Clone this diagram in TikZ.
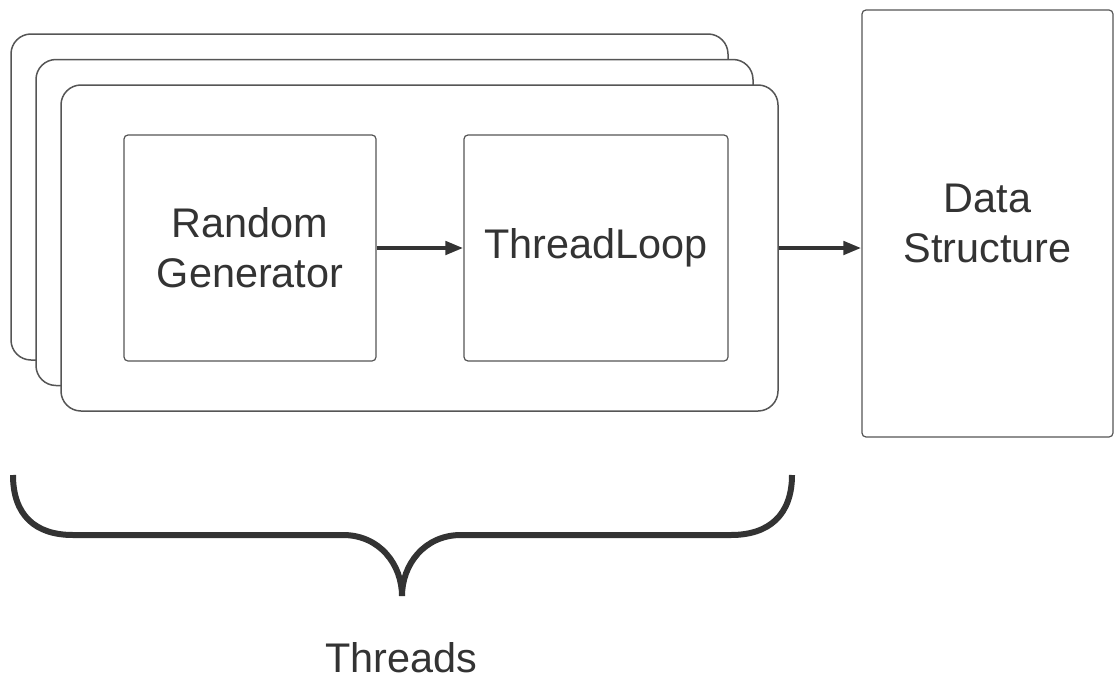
\documentclass[tikz,border=0pt]{standalone}
\usepackage{fontspec}
\setmainfont{Liberation Sans}
\usetikzlibrary{arrows.meta}
\definecolor{ink}{HTML}{333333}
\definecolor{edge}{HTML}{555555}
\begin{document}
\begin{tikzpicture}[
  x=0.5pt, y=-0.5pt,
  frame/.style={draw=edge, line width=0.75pt, fill=white, rounded corners=10pt,
    minimum width=358.5pt, minimum height=163pt, inner sep=0pt},
  box/.style={draw=edge, line width=0.6pt, fill=white, rounded corners=2pt,
    inner sep=0pt, align=center, text=ink, font=\fontsize{20.7}{25}\selectfont},
  flow/.style={-{Triangle[length=9pt,width=6.5pt]}, line width=2.2pt, draw=ink},
]
\useasboundingbox (0,0) rectangle (1114,680);

% Stacked thread frames
\foreach \i in {0,1,2} {
  \node[frame] (frame\i) at (369.5+25*\i, 197+25.5*\i) {};
}

% Inner boxes
\node[box, minimum width=126pt, minimum height=113pt] (rng) at (250,248) {Random\\Generator};
\node[box, minimum width=132pt, minimum height=113pt] (loop) at (596,248) {ThreadLoop};
\node[box, minimum width=125.5pt, minimum height=213.5pt] (data) at (987.5,223.5) {Data\\Structure};

% Connectors
\draw[flow] (rng.east) -- (loop.west);
\draw[flow] (frame2.east) -- (frame2.east -| data.west);

% Brace under the threads
\draw[ink, line width=3pt] (13,475) .. controls (13,515) and (35,535) .. (73,535)
  -- (343,535) .. controls (380,535) and (402,565) .. (402,596);
\draw[ink, line width=3pt] (402,596) .. controls (402,565) and (424,535) .. (461,535)
  -- (731,535) .. controls (769,535) and (792,515) .. (792,475);
\node[text=ink, font=\fontsize{20.7}{25}\selectfont] (threads) at (401,658) {Threads};

\end{tikzpicture}
\end{document}
